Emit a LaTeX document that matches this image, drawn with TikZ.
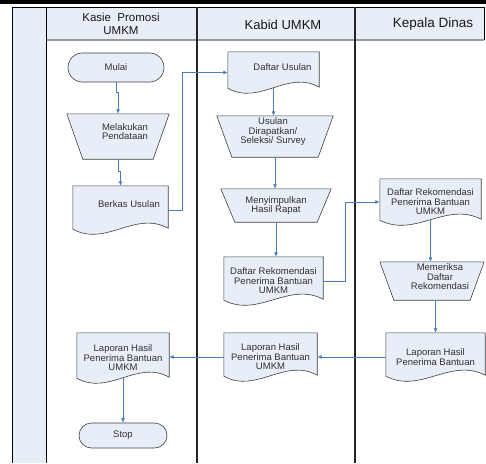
\documentclass[tikz,border=0pt]{standalone}
\usepackage{fontspec}
\setmainfont{Liberation Sans}
\usetikzlibrary{shapes.misc,arrows.meta}

\definecolor{lanefill}{HTML}{E8EEF7}
\definecolor{flowblue}{HTML}{4A7EBB}
\definecolor{edgegrey}{HTML}{3F3F3F}
\definecolor{txtgrey}{HTML}{303030}

\pgfdeclarelayer{bg}
\pgfsetlayers{bg,main}

\tikzset{
  txt/.style={font=\fontsize{9.5}{9.5}\selectfont, text=txtgrey, align=center},
  box/.style={txt, draw=edgegrey, fill=lanefill, line width=0.6pt, inner sep=0pt},
  term/.style={box, rounded rectangle},
  doc/.style={txt, inner sep=0pt},
  manop/.style={txt, inner sep=0pt},
  head/.style={font=\fontsize{#1}{13}\selectfont, text=black!90, align=center},
  flow/.style={draw=flowblue, line width=0.8pt, -{Latex[length=4.5pt,width=4pt]}}
}

% document shape with wavy bottom, drawn behind the node
\newcommand{\docshape}[2]{%
  \begin{pgfonlayer}{bg}
    \filldraw[draw=edgegrey, fill=lanefill, line width=0.6pt]
      ([yshift=5pt]#1.south west) -- (#1.north west) -- (#1.north east) -- ([yshift=6pt]#1.south east)
      .. controls +(-0.35*#2,-18) and +(0.35*#2,18) .. ([yshift=5pt]#1.south west) -- cycle;
  \end{pgfonlayer}}

% manual operation (trapezoid, narrow at the bottom), drawn behind the node
\newcommand{\manshape}[2]{%
  \begin{pgfonlayer}{bg}
    \filldraw[draw=edgegrey, fill=lanefill, line width=0.6pt]
      (#1.north west) -- (#1.north east) -- ([xshift=-#2pt]#1.south east) -- ([xshift=#2pt]#1.south west) -- cycle;
  \end{pgfonlayer}}

\begin{document}
\begin{tikzpicture}[x=1pt, y=-1pt]
\useasboundingbox (0,0) rectangle (486,463);
\fill[black] (0,0) rectangle (486,4);

% swimlanes
\begin{pgfonlayer}{bg}
\fill[lanefill] (12,7) rectangle (46,463);
\fill[lanefill] (46,7) rectangle (484,40);
\end{pgfonlayer}
\draw[line width=0.6pt] (12,463) -- (12,7) -- (484,7) -- (484,40);
\draw[line width=1.4pt, gray!80] (46,40) -- (484,40);
\draw[line width=1pt] (46,7) -- (46,463);
\draw[line width=1.6pt, black!85] (197,7) -- (197,463);
\draw[line width=1.6pt, black!85] (355,7) -- (355,463);

\node[head=11.5] (kasiehead) at (121,24) {Kasie\ \ Promosi\\UMKM};
\node[head=13] (kabidhead) at (283,24.5) {Kabid UMKM};
\node[head=13.5] (kadishead) at (433,24.5) {Kepala Dinas};

% Kasie Promosi UMKM
\node[term, minimum width=96pt, minimum height=29pt] (mulai) at (116,67.5) {Mulai};
\node[manop, minimum width=102pt, minimum height=45pt,
  label={[txt,xshift=7pt,yshift=5pt]center:Melakukan\\Pendataan}] (pendataan) at (118,136.5) {};
\manshape{pendataan}{16}
\node[doc, minimum width=95pt, minimum height=48pt,
  label={[txt,xshift=8.5pt,yshift=6pt]center:Berkas Usulan}] (berkas) at (120.5,210) {};
\docshape{berkas}{95}
\node[doc, minimum width=92pt, minimum height=50pt] (lapor1) at (123,358) {Laporan Hasil\\Penerima Bantuan\\UMKM};
\docshape{lapor1}{92}
\node[term, minimum width=88pt, minimum height=25pt] (stop) at (123,435.5) {Stop};

% Kabid UMKM
\node[doc, minimum width=91pt, minimum height=41pt,
  label={[txt,xshift=9pt,yshift=5.5pt]center:Daftar Usulan}] (daftar) at (273.5,72.5) {};
\docshape{daftar}{91}
\node[manop, minimum width=116pt, minimum height=41pt,
  label={[txt,xshift=-2pt,yshift=4.5pt]center:Usulan\\Dirapatkan/\\Seleksi/ Survey}] (usulan) at (275,136.5) {};
\manshape{usulan}{15}
\node[manop, minimum width=110pt, minimum height=33pt] (simpul) at (276,205.5) {Menyimpulkan\\Hasil Rapat};
\manshape{simpul}{14}
\node[doc, minimum width=99pt, minimum height=48pt] (rekom2) at (273.5,281) {Daftar Rekomendasi\\Penerima Bantuan\\UMKM};
\docshape{rekom2}{99}
\node[doc, minimum width=93pt, minimum height=48pt] (lapor2) at (270.5,357) {Laporan Hasil\\Penerima Bantuan\\UMKM};
\docshape{lapor2}{93}

% Kepala Dinas
\node[doc, minimum width=101pt, minimum height=46pt] (rekom3) at (430.5,202) {Daftar Rekomendasi\\Penerima Bantuan\\UMKM};
\docshape{rekom3}{101}
\node[manop, minimum width=104pt, minimum height=38pt,
  label={[txt,xshift=8pt,yshift=4pt]center:Memeriksa\\Daftar\\Rekomendasi}] (periksa) at (432,281) {};
\manshape{periksa}{14}
\node[doc, minimum width=99pt, minimum height=48pt] (lapor3) at (435.5,357) {Laporan Hasil\\Penerima Bantuan};
\docshape{lapor3}{99}

% arrows
\draw[flow] (mulai.south) -- ++(0,10) -| (pendataan.north);
\draw[flow] (pendataan.south) -- ++(0,12) -| (berkas.north);
\draw[flow] (berkas.east) -- ++(14,0) |- (daftar.west);
\draw[flow] ([yshift=5pt]daftar.south) -- (daftar.south |- usulan.north);
\draw[flow] (usulan.south) -- (usulan.south |- simpul.north);
\draw[flow] (simpul.south) -- (simpul.south |- rekom2.north);
\draw[flow] (rekom2.east) -- ++(22,0) |- (rekom3.west);
\draw[flow] ([yshift=5pt]rekom3.south) -- (rekom3.south |- periksa.north);
\draw[flow] (lapor3.north |- periksa.south) -- (lapor3.north);
\draw[flow] (lapor3.west) -- (lapor3.west -| lapor2.east);
\draw[flow] (lapor2.west) -- (lapor2.west -| lapor1.east);
\draw[flow] ([yshift=5pt]lapor1.south) -- (stop.north);
\end{tikzpicture}
\end{document}
